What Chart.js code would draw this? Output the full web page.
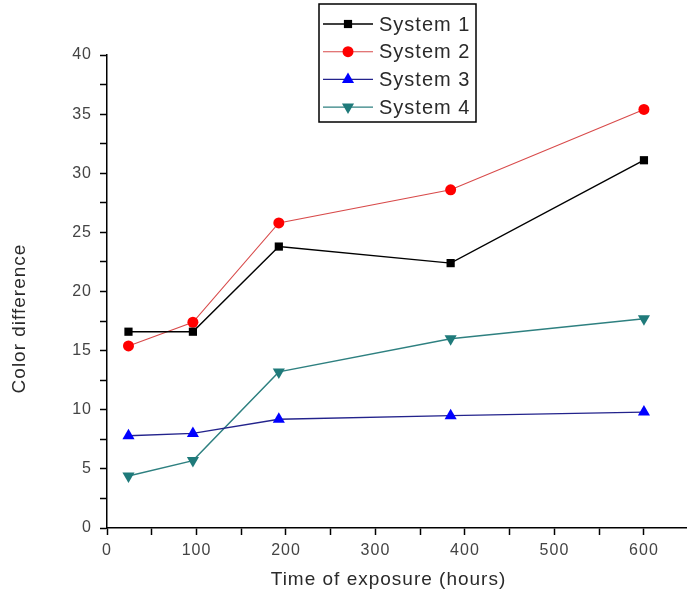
<!DOCTYPE html>
<html>
<head>
<meta charset="utf-8">
<script src="https://cdn.jsdelivr.net/npm/chart.js@4/dist/chart.umd.min.js"></script>
<style>
  html, body { margin: 0; padding: 0; background: #fff; }
  #wrap { width: 693px; height: 599px; }
</style>
</head>
<body>
<div id="wrap"><canvas id="chart" width="693" height="599"></canvas></div>
<script>
// exposure times (hours)
const hours = [24, 96, 192, 384, 600];

// color difference per system
const system1 = [16.6, 16.6, 23.8, 22.4, 31.1];
const system2 = [15.4, 17.4, 25.8, 28.6, 35.4];
const system3 = [7.8, 8.0, 9.2, 9.5, 9.8];
const system4 = [4.4, 5.7, 13.2, 16.0, 17.7];

const seriesNames = ['System 1', 'System 2', 'System 3', 'System 4'];
const xTitle = 'Time of exposure (hours)';
const yTitle = 'Color difference';

const FONT = "'Liberation Sans', Arial, sans-serif";

function points(values) {
  return hours.map((h, i) => ({ x: h, y: values[i] }));
}

const styles = [
  { line: '#000000', fill: '#000000', shape: 'rect', radius: 5.8, rot: 0, width: 1.4 },
  { line: '#d84a4a', fill: '#ff0000', shape: 'circle', radius: 5.5, rot: 0, width: 1.1 },
  { line: '#23238c', fill: '#0000ff', shape: 'triangle', radius: 7, rot: 0, width: 1.4 },
  { line: '#2e8080', fill: '#1f7a7a', shape: 'triangle', radius: 7, rot: 180, width: 1.4 }
];

const datasets = [system1, system2, system3, system4].map((vals, i) => ({
  label: seriesNames[i],
  data: points(vals),
  borderColor: styles[i].line,
  borderWidth: styles[i].width,
  backgroundColor: styles[i].fill,
  pointBackgroundColor: styles[i].fill,
  pointBorderColor: styles[i].fill,
  pointBorderWidth: 0,
  pointStyle: styles[i].shape,
  pointRotation: styles[i].rot,
  pointRadius: styles[i].radius,
  tension: 0
}));

function drawMarker(ctx, st, x, y) {
  ctx.save();
  ctx.fillStyle = st.fill;
  ctx.translate(x, y);
  ctx.rotate(st.rot * Math.PI / 180);
  ctx.beginPath();
  if (st.shape === 'rect') {
    const s = st.radius * Math.SQRT1_2;
    ctx.rect(-s, -s, 2 * s, 2 * s);
  } else if (st.shape === 'circle') {
    ctx.arc(0, 0, st.radius, 0, Math.PI * 2);
  } else {
    const r = st.radius;
    ctx.moveTo(0, -r);
    ctx.lineTo(r * Math.cos(Math.PI / 6), r * 0.5);
    ctx.lineTo(-r * Math.cos(Math.PI / 6), r * 0.5);
    ctx.closePath();
  }
  ctx.fill();
  ctx.restore();
}

// text spacing and titles/legend drawn by hand to match the original layout
const lookPlugin = {
  id: 'look',
  beforeDraw(chart) {
    chart.ctx.letterSpacing = '1px';
  },
  afterDraw(chart) {
    const ctx = chart.ctx;
    const area = chart.chartArea;
    ctx.save();
    ctx.fillStyle = '#2a2a2a';
    ctx.font = '19px ' + FONT;
    ctx.textAlign = 'center';
    ctx.textBaseline = 'middle';
    ctx.fillText(xTitle, (area.left + area.right) / 2 - 8, 580);
    ctx.translate(20, (area.top + area.bottom) / 2 + 27);
    ctx.rotate(-Math.PI / 2);
    ctx.fillText(yTitle, 0, 0);
    ctx.restore();

    // legend box
    const box = { left: 319, top: 4, right: 476, bottom: 122 };
    ctx.save();
    ctx.fillStyle = '#fff';
    ctx.fillRect(box.left, box.top, box.right - box.left, box.bottom - box.top);
    ctx.strokeStyle = '#000';
    ctx.lineWidth = 1.5;
    ctx.strokeRect(box.left, box.top, box.right - box.left, box.bottom - box.top);
    ctx.font = '20px ' + FONT;
    ctx.textBaseline = 'middle';
    ctx.textAlign = 'left';
    chart.data.datasets.forEach((ds, i) => {
      const y = 24 + i * 27.7;
      const st = styles[i];
      ctx.strokeStyle = st.line;
      ctx.lineWidth = st.width;
      ctx.beginPath();
      ctx.moveTo(323, y);
      ctx.lineTo(373, y);
      ctx.stroke();
      drawMarker(ctx, st, 348, y);
      ctx.fillStyle = '#2a2a2a';
      ctx.fillText(ds.label, 379, y + 1);
    });
    ctx.restore();
  }
};

new Chart(document.getElementById('chart'), {
  type: 'line',
  data: { datasets: datasets },
  options: {
    responsive: false,
    animation: false,
    layout: { padding: { top: 55, left: 0, right: 0, bottom: 0 } },
    plugins: {
      legend: { display: false },
      tooltip: { enabled: false }
    },
    scales: {
      x: {
        type: 'linear',
        min: 0,
        max: 647,
        border: { display: true, color: '#000', width: 1.5 },
        grid: { drawOnChartArea: false, drawTicks: true, tickLength: 7, tickColor: '#000', tickWidth: 1.5 },
        ticks: {
          stepSize: 50,
          includeBounds: false,
          autoSkip: false,
          maxRotation: 0,
          padding: 6,
          color: '#444',
          font: { family: FONT, size: 16 },
          callback: v => (v % 100 === 0 ? v : '')
        },
        afterFit: s => { s.height = 71; }
      },
      y: {
        min: 0,
        max: 40,
        border: { display: true, color: '#000', width: 1.5 },
        grid: { drawOnChartArea: false, drawTicks: true, tickLength: 7, tickColor: '#000', tickWidth: 1.5 },
        ticks: {
          stepSize: 2.5,
          autoSkip: false,
          padding: 8,
          color: '#444',
          font: { family: FONT, size: 16 },
          callback: v => (v % 5 === 0 ? v : '')
        },
        afterFit: s => { s.width = 107; }
      }
    }
  },
  plugins: [lookPlugin]
});
</script>
</body>
</html>
